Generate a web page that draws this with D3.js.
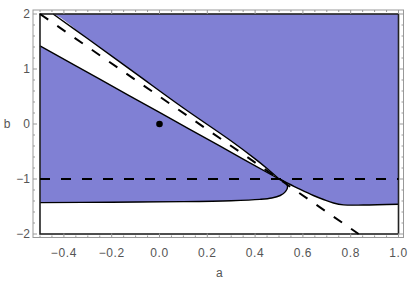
<!DOCTYPE html>
<html>
<head>
<meta charset="utf-8">
<script src="https://cdn.jsdelivr.net/npm/d3@7"></script>
<style>
  body { margin: 0; background: #fff; }
  text { font-family: "Liberation Sans", Arial, sans-serif; }
</style>
</head>
<body>
<svg id="chart" width="409" height="287"></svg>
<script>
// tick values
const aTicks = [-0.4, -0.2, 0.0, 0.2, 0.4, 0.6, 0.8, 1.0];
const bTicks = [-2, -1, 0, 1, 2];

// boundary curves, [a, b]
const stripUpper = [[-0.445, 2.0], [-0.3, 1.55], [-0.1, 0.92], [0.1, 0.29], [0.3, -0.31], [0.4, -0.635], [0.45, -0.81], [0.5, -1.0]];
const stripLower = [[-0.5, 1.42], [-0.25, 0.815], [0.0, 0.21], [0.25, -0.395], [0.5, -1.0]];
const bottomLeft = [[-0.5, -1.43], [-0.2, -1.422], [0.1, -1.412], [0.3, -1.395], [0.42, -1.37], [0.47, -1.345],
  [0.505, -1.3], [0.527, -1.23], [0.536, -1.14], [0.527, -1.065], [0.5, -1.0]];
const bottomRight = [[0.5, -1.0], [0.547, -1.1], [0.589, -1.19], [0.644, -1.3], [0.686, -1.373], [0.728, -1.436],
  [0.77, -1.47], [0.853, -1.474], [1.0, -1.46]];

// dashed reference lines
const hLine = [[-0.5, -1], [1.0, -1]];
const dLine = [[-0.5, 2], [0.8333, -2]];
const points = [[0, 0]];

const svg = d3.select('#chart');

const PLOT_L = 40, PLOT_R = 398.5, PLOT_T = 14, PLOT_B = 234;
const FRAME_L = 33, FRAME_R = 403.5, FRAME_T = 10, FRAME_B = 237.5;
const COLOR_REGION = '#8080d4';
const COLOR_FRAME = '#999999';
const COLOR_TEXT = '#555555';

const x = d3.scaleLinear().domain([-0.5, 1.0]).range([PLOT_L, PLOT_R]);
const y = d3.scaleLinear().domain([-2, 2]).range([PLOT_B, PLOT_T]);

const line = d3.line().x(d => x(d[0])).y(d => y(d[1]));
const smooth = d3.line().x(d => x(d[0])).y(d => y(d[1])).curve(d3.curveCatmullRom);

// region background
svg.append('rect')
  .attr('x', PLOT_L).attr('y', PLOT_T)
  .attr('width', PLOT_R - PLOT_L).attr('height', PLOT_B - PLOT_T)
  .attr('fill', COLOR_REGION);

// white strip at top-left
const stripPoly = [[-0.5, 2]].concat(stripUpper, stripLower.slice().reverse());
svg.append('path')
  .attr('d', smooth(stripPoly) + 'Z')
  .attr('fill', 'white');

// white region at bottom
svg.append('path')
  .attr('d', smooth(bottomLeft) + smooth(bottomRight).replace('M', 'L') + `L${x(1.0)},${y(-2)}L${x(-0.5)},${y(-2)}Z`)
  .attr('fill', 'white');

// boundaries
const bounds = svg.append('g').attr('fill', 'none').attr('stroke', 'black').attr('stroke-width', 1.4);
bounds.append('path').attr('d', smooth(stripUpper));
bounds.append('path').attr('d', smooth(stripLower));
bounds.append('path').attr('d', smooth(bottomLeft));
bounds.append('path').attr('d', smooth(bottomRight));
bounds.append('rect')
  .attr('x', PLOT_L).attr('y', PLOT_T)
  .attr('width', PLOT_R - PLOT_L).attr('height', PLOT_B - PLOT_T)
  .attr('stroke', '#222').attr('stroke-width', 1.6);

// dashed lines
const dashes = svg.append('g').attr('fill', 'none').attr('stroke', 'black')
  .attr('stroke-width', 2).attr('stroke-dasharray', '10,11');
dashes.append('path').attr('d', line(hLine));
dashes.append('path').attr('d', line(dLine));

// point
svg.selectAll('circle.pt').data(points).join('circle')
  .attr('class', 'pt')
  .attr('cx', d => x(d[0])).attr('cy', d => y(d[1]))
  .attr('r', 3.3).attr('fill', 'black');

// frame
const frame = svg.append('g');
frame.append('rect')
  .attr('x', FRAME_L).attr('y', FRAME_T)
  .attr('width', FRAME_R - FRAME_L).attr('height', FRAME_B - FRAME_T)
  .attr('fill', 'none').attr('stroke', COLOR_FRAME).attr('stroke-width', 1);

const aMinor = d3.range(-0.5, 1.0001, 0.05).map(v => +v.toFixed(2));
const bMinor = d3.range(-2, 2.0001, 0.2).map(v => +v.toFixed(2));
const isMajorA = v => aTicks.some(t => Math.abs(t - v) < 1e-6);
const isMajorB = v => bTicks.some(t => Math.abs(t - v) < 1e-6);

aMinor.forEach(v => {
  const len = isMajorA(v) ? 4 : 2;
  frame.append('line').attr('x1', x(v)).attr('x2', x(v)).attr('y1', FRAME_B).attr('y2', FRAME_B - len)
    .attr('stroke', COLOR_FRAME);
  frame.append('line').attr('x1', x(v)).attr('x2', x(v)).attr('y1', FRAME_T).attr('y2', FRAME_T + len)
    .attr('stroke', COLOR_FRAME);
});
bMinor.forEach(v => {
  const len = isMajorB(v) ? 4 : 2;
  frame.append('line').attr('y1', y(v)).attr('y2', y(v)).attr('x1', FRAME_L).attr('x2', FRAME_L + len)
    .attr('stroke', COLOR_FRAME);
  frame.append('line').attr('y1', y(v)).attr('y2', y(v)).attr('x1', FRAME_R).attr('x2', FRAME_R - len)
    .attr('stroke', COLOR_FRAME);
});

const fmt = v => (v < 0 ? '\u2212' : '') + Math.abs(v).toFixed(1);
svg.append('g').selectAll('text').data(aTicks).join('text')
  .attr('x', d => x(d)).attr('y', FRAME_B + 19)
  .attr('text-anchor', 'middle').attr('font-size', 12).attr('fill', COLOR_TEXT)
  .attr('letter-spacing', 0.6)
  .text(fmt);

svg.append('g').selectAll('text').data(bTicks).join('text')
  .attr('x', FRAME_L - 3).attr('y', d => y(d) + 4.3)
  .attr('text-anchor', 'end').attr('font-size', 12).attr('fill', COLOR_TEXT)
  .text(d => (d < 0 ? '\u2212' : '') + Math.abs(d));

svg.append('text').attr('x', (PLOT_L + PLOT_R) / 2).attr('y', 277)
  .attr('text-anchor', 'middle').attr('font-size', 12).attr('fill', COLOR_TEXT).text('a');
svg.append('text').attr('x', 7).attr('y', y(0) + 4.3)
  .attr('text-anchor', 'middle').attr('font-size', 12).attr('fill', COLOR_TEXT).text('b');
</script>
</body>
</html>
